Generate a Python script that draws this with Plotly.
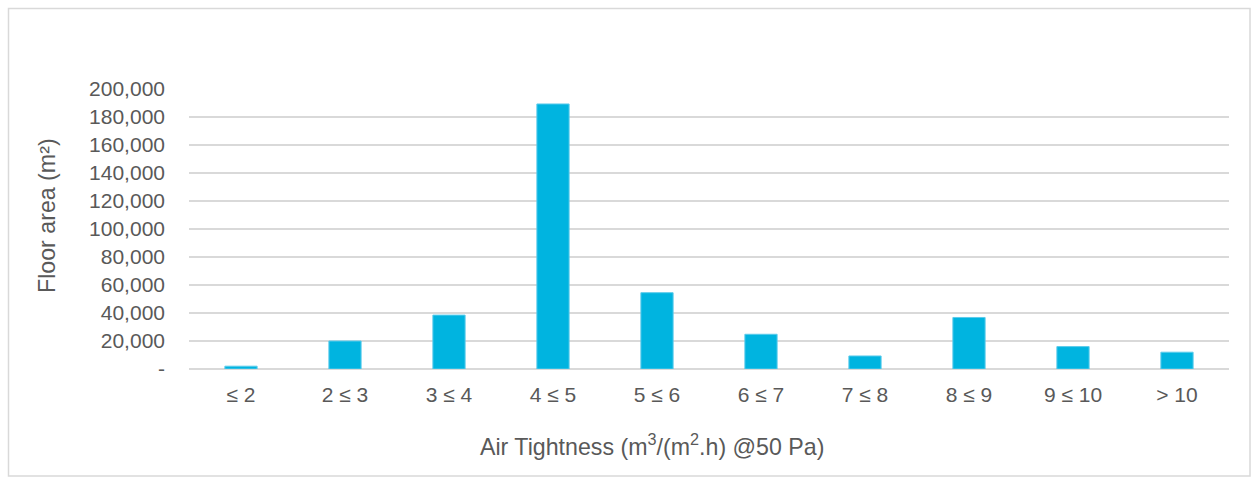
import plotly.graph_objects as go

categories = ["≤ 2", "2 ≤ 3", "3 ≤ 4", "4 ≤ 5", "5 ≤ 6", "6 ≤ 7", "7 ≤ 8", "8 ≤ 9", "9 ≤ 10", "> 10"]
floor_area = [2000, 20000, 38500, 189300, 54500, 24800, 9300, 36800, 16000, 12000]
y_tickvals = [0, 20000, 40000, 60000, 80000, 100000, 120000, 140000, 160000, 180000, 200000]
y_ticktext = ["-", "20,000", "40,000", "60,000", "80,000", "100,000", "120,000", "140,000", "160,000", "180,000", "200,000"]

W, H = 1252, 477
L, R, T, B = 189, 23, 89, 108
pw, ph = W - L - R, H - T - B

def px_x(x):
    return (x - L) / pw

def px_y(y):
    return (H - B - y) / ph

font_family = "Liberation Sans, Arial, sans-serif"
text_color = "#595959"
grid_color = "#D9D9D9"

fig = go.Figure()
fig.add_trace(go.Bar(
    x=categories, y=floor_area,
    marker=dict(color="#00B4E0", line=dict(color="#5CCBEB", width=1)),
    width=0.31,
))

fig.update_layout(
    width=W, height=H,
    margin=dict(l=L, r=R, t=T, b=B),
    paper_bgcolor="white", plot_bgcolor="white",
    showlegend=False,
    font=dict(family=font_family, color=text_color, size=21),
    xaxis=dict(
        showgrid=False, showline=False, zeroline=False,
        ticks="", tickfont=dict(size=21, color=text_color),
        ticklabelstandoff=11,
    ),
    yaxis=dict(
        range=[0, 200000],
        tickvals=y_tickvals, ticktext=y_ticktext,
        showgrid=True, gridcolor=grid_color, gridwidth=1.5,
        zeroline=True, zerolinecolor=grid_color, zerolinewidth=1.5,
        showline=False, ticks="",
        tickfont=dict(size=21, color=text_color),
        ticklabelstandoff=23,
    ),
    shapes=[dict(
        type="rect", xref="paper", yref="paper",
        x0=px_x(8.5), x1=px_x(1250), y0=px_y(476), y1=px_y(8.5),
        line=dict(color="#D9D9D9", width=1.5), fillcolor="rgba(0,0,0,0)", layer="below",
    )],
    annotations=[
        dict(text="Air Tightness (m<sup>3</sup>/(m<sup>2</sup>.h) @50 Pa)",
             xref="paper", yref="paper", x=px_x(652), y=px_y(445),
             xanchor="center", yanchor="middle", showarrow=False,
             font=dict(size=23.2, color=text_color, family=font_family)),
        dict(text="Floor area (m²)",
             xref="paper", yref="paper", x=px_x(47), y=px_y(216),
             xanchor="center", yanchor="middle", showarrow=False, textangle=-90,
             font=dict(size=23.2, color=text_color, family=font_family)),
    ],
)

fig.write_html("out.html")
